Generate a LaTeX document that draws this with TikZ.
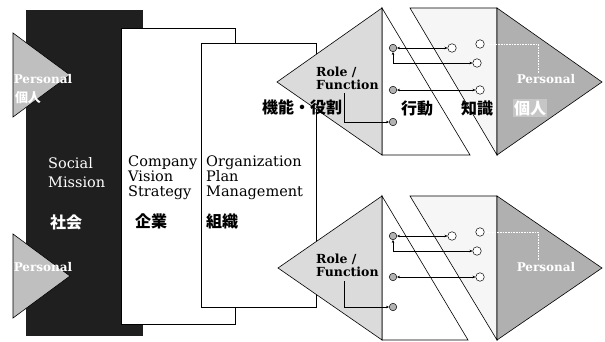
\documentclass[tikz,border=0pt]{standalone}
\usepackage{fontspec}
\setmainfont{DejaVu Serif}
\newfontfamily\cjk{Noto Sans CJK JP}
\usetikzlibrary{arrows.meta}
\begin{document}
\begin{tikzpicture}[x=1pt,y=-1pt,
  edge/.style={draw=black,line width=0.6pt},
  panel/.style={draw=black,fill=white,line width=0.6pt,inner sep=0pt},
  lbl/.style={inner sep=0pt,align=left,font=\fontsize{14.5}{15}\selectfont},
  wlbl/.style={inner sep=0pt,align=left,text=white,font=\fontsize{14.5}{19}\selectfont},
  cjkl/.style={inner sep=0pt,font=\cjk\bfseries\fontsize{16}{16}\selectfont},
  wcjk/.style={inner sep=0pt,text=white,font=\cjk\bfseries\fontsize{16}{16}\selectfont},
  wcjks/.style={inner sep=0pt,text=white,font=\cjk\bfseries\fontsize{13}{13}\selectfont},
  pers/.style={inner sep=0pt,text=white,font=\bfseries\fontsize{12}{12}\selectfont},
  rolelbl/.style={inner sep=0pt,align=left,font=\bfseries\fontsize{12.5}{13}\selectfont},
  gdot/.style={circle,draw=black,fill=gray!60,inner sep=0pt,minimum size=7.5pt,line width=0.5pt},
  wdot/.style={circle,draw=black,fill=white,inner sep=0pt,minimum size=8.5pt,line width=0.5pt},
  conn/.style={line width=0.5pt,{Stealth[length=3pt,width=2.6pt]}-{Stealth[length=3pt,width=2.6pt]}},
  conn1/.style={line width=0.5pt,-{Stealth[length=3pt,width=2.6pt]}},
  pconn/.style={line width=0.6pt,white,densely dotted,-{Stealth[length=3pt,width=2.6pt]}}
]
\useasboundingbox (0,0) rectangle (605,342);

% left black strip
\node[fill=black!88,inner sep=0pt,minimum width=117pt,minimum height=326pt] (social) at (84.5,173) {};
% left Personal triangles
\filldraw[edge,fill=gray!50] (13,33) -- (70,75) -- (13,117) -- cycle;
\filldraw[edge,fill=gray!50] (13,234) -- (70,276) -- (13,318) -- cycle;
\node[pers] (pl1) at (43,79) {Personal};
\node[wcjks] (kl1) at (28,98) {個人};
\node[pers] (pl2) at (43,267) {Personal};
\node[wlbl,anchor=north west] (soc) at (48,157) {Social\\Mission};
\node[wcjk] (shakai) at (66,222) {社会};

% company and organization panels
\node[panel,minimum width=114pt,minimum height=296pt] (company) at (178,176) {};
\node[panel,minimum width=115pt,minimum height=264pt] (org) at (258.5,175) {};
\node[lbl,anchor=north west] (comptxt) at (128,156) {Company\\Vision\\Strategy};
\node[cjkl] (kigyo) at (151,221) {企業};
\node[lbl,anchor=north west] (orgtxt) at (206,156) {Organization\\Plan\\Management};
\node[cjkl] (soshiki) at (222,221) {組織};

% ===== upper group =====
\filldraw[edge,fill=white] (382,8) -- (470,155) -- (382,155) -- cycle;
\filldraw[edge,fill=gray!7] (410,8) -- (497,8) -- (497,155) -- cycle;
\filldraw[edge,fill=gray!28] (277,82) -- (382,8) -- (382,155) -- cycle;
\filldraw[edge,fill=gray!62] (497,8) -- (602,82) -- (497,155) -- cycle;
\node[rolelbl,anchor=north west] (urole) at (316,67) {Role /\\Function};
\node[cjkl] (kino) at (302,107) {機能・役割};
\node[cjkl] (ukodo) at (417,108) {行動};
\node[cjkl] (uchiki) at (477,108) {知識};
\node[pers] (upers) at (546,79) {Personal};
\node[wcjk,fill=gray!45,inner sep=1pt] (ukojin) at (530,108) {個人};
\node[gdot] (ug1) at (393,48) {};
\node[gdot] (ug2) at (393,90) {};
\node[gdot] (ug3) at (393,122) {};
\node[wdot] (uw1) at (452,48) {};
\node[wdot] (uw2) at (480,44) {};
\node[wdot] (uw3) at (477,63) {};
\node[wdot] (uw4) at (480,90) {};
\draw[conn] (ug1) -- (uw1);
\draw[conn] (ug1) |- (uw3);
\draw[conn] (ug2) -- (uw4);
\coordinate (ur) at (344,93);
\draw[conn1] (ur) |- (ug3);
\coordinate (up) at (538,73);
\draw[pconn] (up) |- (uw2);

% ===== lower group =====
\filldraw[edge,fill=white] (382,196) -- (468,340) -- (382,340) -- cycle;
\filldraw[edge,fill=gray!7] (410,196) -- (497,196) -- (497,340) -- cycle;
\filldraw[edge,fill=gray!28] (278,268) -- (382,196) -- (382,340) -- cycle;
\filldraw[edge,fill=gray!62] (497,196) -- (602,268) -- (497,340) -- cycle;
\node[rolelbl,anchor=north west] (lrole) at (316,254) {Role /\\Function};
\node[pers] (lpers) at (546,267) {Personal};
\node[gdot] (lg1) at (393,236) {};
\node[gdot] (lg2) at (393,277) {};
\node[gdot] (lg3) at (393,307) {};
\node[wdot] (lw1) at (452,236) {};
\node[wdot] (lw2) at (480,232) {};
\node[wdot] (lw3) at (477,251) {};
\node[wdot] (lw4) at (480,277) {};
\draw[conn] (lg1) -- (lw1);
\draw[conn] (lg1) |- (lw3);
\draw[conn] (lg2) -- (lw4);
\coordinate (lr) at (344,281);
\draw[conn1] (lr) |- (lg3);
\coordinate (lp) at (538,260);
\draw[pconn] (lp) |- (lw2);
\end{tikzpicture}
\end{document}
